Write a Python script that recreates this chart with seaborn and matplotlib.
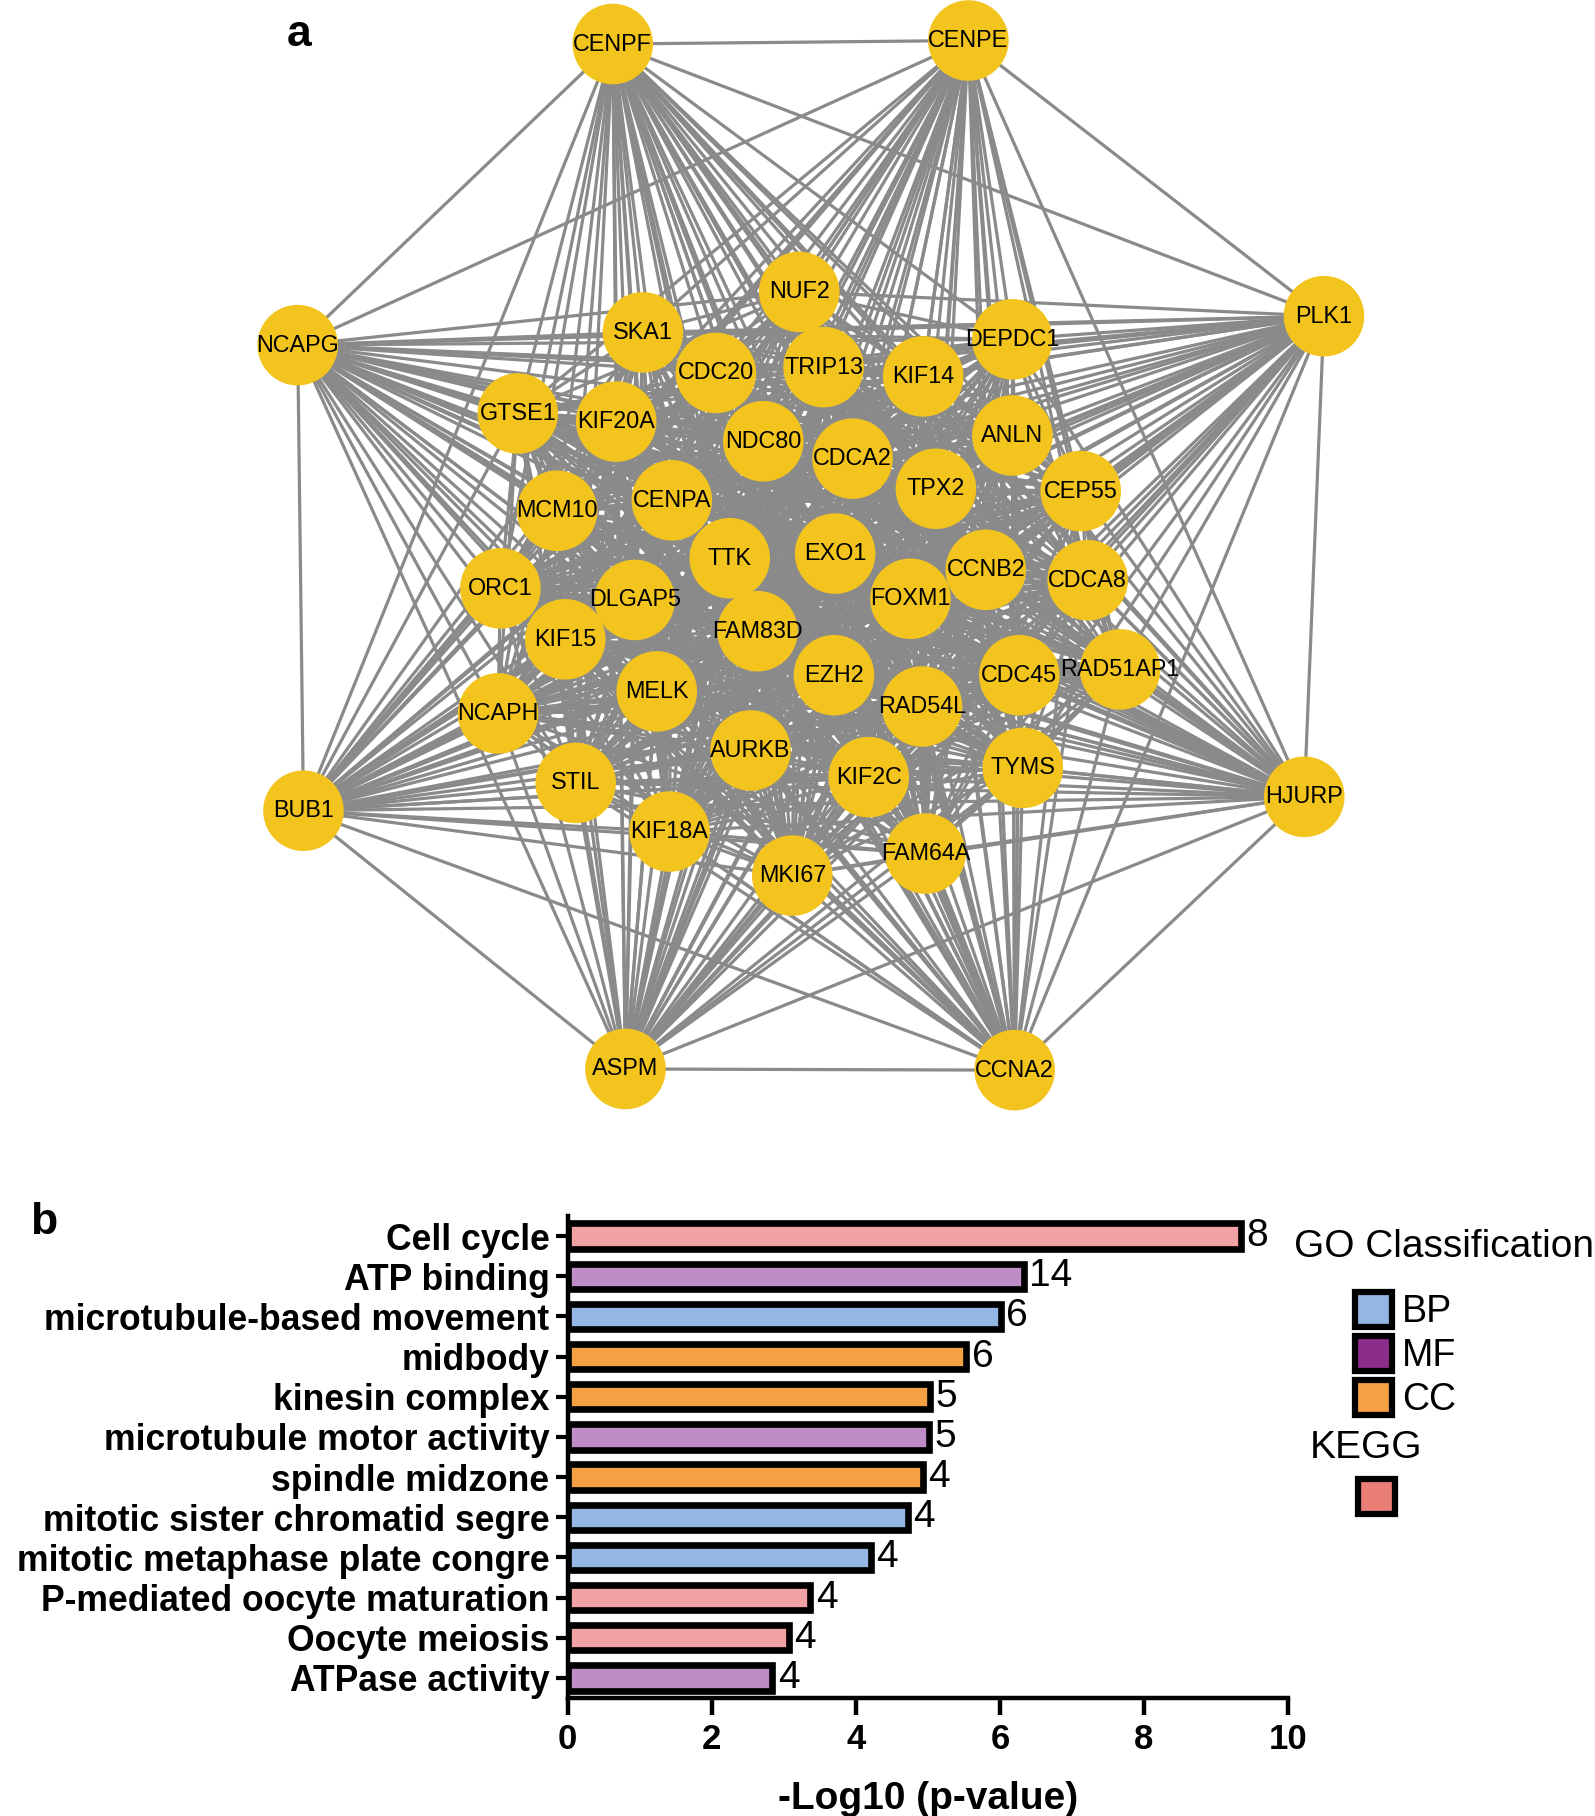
import itertools
import numpy as np
import pandas as pd
import seaborn as sns
import matplotlib.pyplot as plt
from matplotlib.collections import LineCollection
from matplotlib.patches import Patch

# ---- panel a: hub-gene network (layout) ----
node_names = ["CENPF", "CENPE", "NCAPG", "PLK1", "BUB1", "HJURP", "ASPM", "CCNA2",
              "NUF2", "SKA1", "DEPDC1", "CDC20", "TRIP13", "KIF14", "GTSE1", "KIF20A",
              "NDC80", "ANLN", "CDCA2", "TPX2", "CEP55", "MCM10", "CENPA", "TTK",
              "EXO1", "CCNB2", "CDCA8", "ORC1", "DLGAP5", "FOXM1", "FAM83D", "KIF15",
              "EZH2", "CDC45", "RAD51AP1", "MELK", "RAD54L", "NCAPH", "AURKB", "TYMS",
              "STIL", "KIF2C", "KIF18A", "FAM64A", "MKI67"]
node_x = [529, 836, 257, 1143, 262, 1126, 540, 876,
          690, 555, 874, 618, 711, 797, 447, 532,
          659, 874, 736, 808, 933, 481, 580, 630,
          721, 851, 939, 432, 548, 786, 654, 488,
          720, 880, 967, 567, 796, 430, 648, 883,
          497, 750, 578, 799, 684]
node_y = [38, 35, 298, 273, 700, 688, 923, 924,
          252, 287, 293, 322, 317, 325, 357, 364,
          381, 376, 396, 422, 424, 441, 432, 482,
          478, 492, 501, 508, 518, 517, 545, 552,
          583, 583, 578, 597, 610, 616, 648, 663,
          676, 671, 718, 737, 756]

# ---- panel b: enrichment bars ----
terms = ["Cell cycle", "ATP binding", "microtubule-based movement", "midbody",
         "kinesin complex", "microtubule motor activity", "spindle midzone",
         "mitotic sister chromatid segre", "mitotic metaphase plate congre",
         "P-mediated oocyte maturation", "Oocyte meiosis", "ATPase activity"]
neg_log_p = [9.34, 6.33, 6.01, 5.53, 5.03, 5.01, 4.93, 4.72, 4.21, 3.37, 3.07, 2.84]
gene_counts = [8, 14, 6, 6, 5, 5, 4, 4, 4, 4, 4, 4]
classes = ["KEGG", "MF", "BP", "CC", "CC", "MF", "CC", "BP", "BP", "KEGG", "KEGG", "MF"]

bar_colors = {"BP": "#93b6e2", "MF": "#bf8cc8", "CC": "#f5a143", "KEGG": "#f2a1a5"}
legend_colors = {"BP": "#93b6e2", "MF": "#8c2d8c", "CC": "#f5a143", "KEGG": "#e87e76"}

sns.set_style("white")
plt.rcParams["font.family"] = ["Liberation Sans", "DejaVu Sans"]
plt.rcParams["text.color"] = "black"
plt.rcParams["axes.labelcolor"] = "black"
plt.rcParams["xtick.color"] = "black"
plt.rcParams["ytick.color"] = "black"

fig = plt.figure(figsize=(15.95, 18.16), dpi=100)

# network
ax_net = fig.add_axes([0, 1 - 975 / 1568, 1, 975 / 1568])
pts = list(zip(node_x, node_y))
segs = [[pts[i], pts[j]] for i, j in itertools.combinations(range(len(pts)), 2)]
ax_net.add_collection(LineCollection(segs, colors="#8a8a8a", linewidths=2.3, zorder=1))
sns.scatterplot(x=node_x, y=node_y, s=3364, color="#f2c41d", edgecolor="none",
                linewidth=0, ax=ax_net, zorder=2)
for name, x, y in zip(node_names, node_x, node_y):
    ax_net.text(x, y, name, ha="center", va="center", fontsize=16.8, zorder=3)
ax_net.set_xlim(0, 1377)
ax_net.set_ylim(975, 0)
ax_net.axis("off")

fig.text(299 / 1595, 1 - 35 / 1816, "a", fontsize=32, fontweight="bold",
         ha="center", va="center")
fig.text(44 / 1595, 1 - 1222 / 1816, "b", fontsize=32, fontweight="bold",
         ha="center", va="center")

# bars
df = pd.DataFrame({"term": terms, "p": neg_log_p, "n": gene_counts, "cls": classes})
ax = fig.add_axes([0.3559, 0.065, 0.4517, 0.2654])
sns.barplot(data=df, x="p", y="term", hue="cls", palette=bar_colors, dodge=False,
            saturation=1, width=0.63, edgecolor="black", linewidth=4.8,
            legend=False, ax=ax)
for i, (v, n) in enumerate(zip(neg_log_p, gene_counts)):
    ax.annotate(str(n), (v, i), xytext=(4, 0), textcoords="offset points",
                ha="left", va="center", fontsize=28)

ax.set_xlim(0, 10)
ax.set_ylim(len(terms) - 0.5, -0.5)
ax.set_xticks(np.arange(0, 11, 2))
ax.set_ylabel("")
ax.set_xlabel("-Log10 (p-value)", fontsize=28, fontweight="bold", labelpad=18)
sns.despine(ax=ax)
for side in ["left", "bottom"]:
    ax.spines[side].set_linewidth(3.2)
    ax.spines[side].set_color("black")
ax.tick_params(axis="x", length=12, width=3.2, pad=6, labelsize=25, direction="out",
               bottom=True)
ax.tick_params(axis="y", length=9, width=3.0, pad=4, labelsize=25.6, direction="out",
               left=True)
for lab in ax.get_xticklabels() + ax.get_yticklabels():
    lab.set_fontweight("bold")

# legend
fig.text(1294 / 1595, 1 - 1247 / 1816, "GO Classification", fontsize=28,
         ha="left", va="center")
go_handles = [Patch(facecolor=legend_colors[k], edgecolor="black", linewidth=4.5)
              for k in ["BP", "MF", "CC"]]
leg1 = fig.legend(go_handles, ["BP", "MF", "CC"], loc="upper left",
                  bbox_to_anchor=(1336 / 1595, 1 - 1273 / 1816), frameon=False,
                  fontsize=27, handlelength=1.0, handleheight=1.05,
                  handletextpad=0.25, labelspacing=0.16, borderpad=0)
fig.text(1366 / 1595, 1 - 1448 / 1816, "KEGG", fontsize=28, ha="center", va="center")
leg2 = fig.legend([Patch(facecolor=legend_colors["KEGG"], edgecolor="black", linewidth=4.5)],
                  [""], loc="upper left", bbox_to_anchor=(1339 / 1595, 1 - 1460 / 1816),
                  frameon=False, fontsize=27, handlelength=1.0, handleheight=1.05,
                  borderpad=0)

fig.savefig("out.png", dpi=100)
